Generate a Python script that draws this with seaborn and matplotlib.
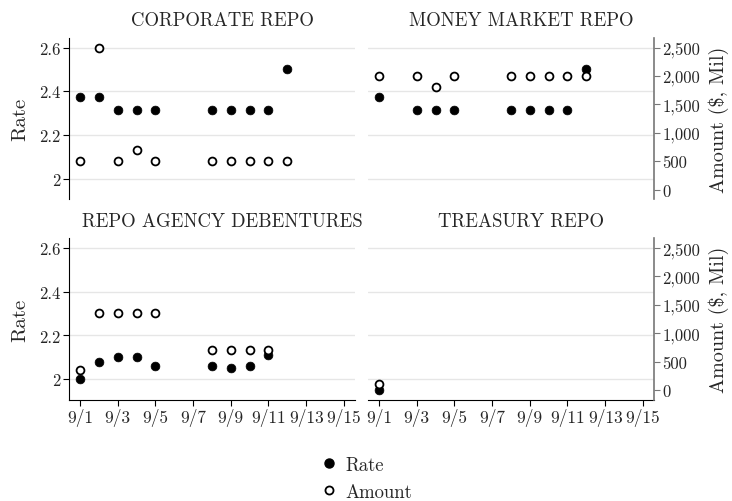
import pandas as pd
import matplotlib
import matplotlib.pyplot as plt
import seaborn as sns
from matplotlib.lines import Line2D
from matplotlib.ticker import FuncFormatter

# Data: day of September, rate (%), amount ($ Mil)
panel_titles = ['CORPORATE REPO', 'MONEY MARKET REPO', 'REPO AGENCY DEBENTURES', 'TREASURY REPO']

corporate_days = [1, 2, 3, 4, 5, 8, 9, 10, 11, 12]
corporate_rate = [2.375, 2.375, 2.3125, 2.3125, 2.3125, 2.3125, 2.3125, 2.3125, 2.3125, 2.5]
corporate_amount = [500, 2500, 500, 700, 500, 500, 500, 500, 500, 500]

money_days = [1, 3, 4, 5, 8, 9, 10, 11, 12]
money_rate = [2.375, 2.3125, 2.3125, 2.3125, 2.3125, 2.3125, 2.3125, 2.3125, 2.5]
money_amount = [2000, 2000, 1800, 2000, 2000, 2000, 2000, 2000, 2000]

agency_days = [1, 2, 3, 4, 5, 8, 9, 10, 11]
agency_rate = [2.00, 2.08, 2.10, 2.10, 2.06, 2.06, 2.05, 2.06, 2.11]
agency_amount = [350, 1350, 1350, 1350, 1350, 700, 700, 700, 700]

treasury_days = [1]
treasury_rate = [1.95]
treasury_amount = [100]

x_ticks = [1, 3, 5, 7, 9, 11, 13, 15]
x_labels = ['9/1', '9/3', '9/5', '9/7', '9/9', '9/11', '9/13', '9/15']
rate_ticks = [2.0, 2.2, 2.4, 2.6]
amount_ticks = [0, 500, 1000, 1500, 2000, 2500]

frames = []
for title, d, r, a in [(panel_titles[0], corporate_days, corporate_rate, corporate_amount),
                       (panel_titles[1], money_days, money_rate, money_amount),
                       (panel_titles[2], agency_days, agency_rate, agency_amount),
                       (panel_titles[3], treasury_days, treasury_rate, treasury_amount)]:
    frames.append(pd.DataFrame({'panel': title, 'day': d, 'rate': r, 'amount': a}))
data = pd.concat(frames, ignore_index=True)

sns.set_style('white')
plt.rcParams['font.family'] = ['cmr10', 'DejaVu Serif']
plt.rcParams['axes.formatter.use_mathtext'] = True

fig = plt.figure(figsize=(7.32, 5.02), dpi=100)

lefts = [0.0947, 0.5031]
bottoms = [0.6006, 0.2012]
w, h = 0.390, 0.3227

for i, title in enumerate(panel_titles):
    row, col = divmod(i, 2)
    ax = fig.add_axes([lefts[col], bottoms[row], w, h])
    ax2 = ax.twinx()
    sub = data[data['panel'] == title]

    sns.scatterplot(x='day', y='rate', data=sub, ax=ax, color='black',
                    s=40, edgecolor='black', linewidth=0.5, zorder=3)
    sns.scatterplot(x='day', y='amount', data=sub, ax=ax2, color='white',
                    s=32, edgecolor='black', linewidth=1.3, zorder=3)

    ax.set_xlim(0.43, 15.58)
    ax.set_ylim(1.904, 2.646)
    ax2.set_ylim(-176, 2676)
    ax.set_yticks(rate_ticks)
    ax.set_yticklabels(['2', '2.2', '2.4', '2.6'])
    ax2.set_yticks(amount_ticks)
    ax2.yaxis.set_major_formatter(FuncFormatter(lambda v, p: f'{int(v):,}'))

    ax.grid(axis='y', color='#e6e6e6', linewidth=1.0)
    ax.set_axisbelow(True)
    ax.set_xlabel('')
    ax.set_ylabel('')
    ax2.set_ylabel('')

    for s in ['top', 'right', 'left', 'bottom']:
        ax.spines[s].set_visible(False)
        ax2.spines[s].set_visible(False)

    if col == 0:
        ax.spines['left'].set_visible(True)
        ax.spines['left'].set_color('black')
        ax.tick_params(axis='y', left=True, length=4, width=0.8, color='black',
                       labelsize=12, pad=2)
        ax.set_ylabel('Rate', fontsize=15, labelpad=7)
        ax2.tick_params(axis='y', right=False, labelright=False)
    else:
        ax.tick_params(axis='y', left=False, labelleft=False)
        ax2.spines['right'].set_visible(True)
        ax2.spines['right'].set_color('#777777')
        ax2.spines['right'].set_linewidth(1.2)
        ax2.tick_params(axis='y', right=True, length=4, width=0.8, color='#777777',
                        labelsize=12, pad=2)
        ax2.set_ylabel('Amount ($, Mil)', fontsize=14.5, labelpad=6)

    if row == 1:
        ax.spines['bottom'].set_visible(True)
        ax.spines['bottom'].set_color('black')
        ax.set_xticks(x_ticks)
        ax.set_xticklabels(x_labels)
        ax.tick_params(axis='x', bottom=True, length=4, width=0.8, color='black',
                       labelsize=12.5, pad=2)
    else:
        ax.tick_params(axis='x', bottom=False, labelbottom=False)
    ax2.tick_params(axis='x', bottom=False, labelbottom=False)

    ax.set_title(title, fontsize=13.5, x=0.535, pad=9)

handles = [Line2D([], [], marker='o', linestyle='', markerfacecolor='black',
                  markeredgecolor='black', markersize=6.5),
           Line2D([], [], marker='o', linestyle='', markerfacecolor='white',
                  markeredgecolor='black', markeredgewidth=1.3, markersize=5.8)]
fig.legend(handles, ['Rate', 'Amount'], loc='center', bbox_to_anchor=(0.5, 0.045),
           frameon=False, fontsize=13.5, handletextpad=0.35, labelspacing=0.5,
           handlelength=1.0)

fig.savefig('out.png', dpi=100)
